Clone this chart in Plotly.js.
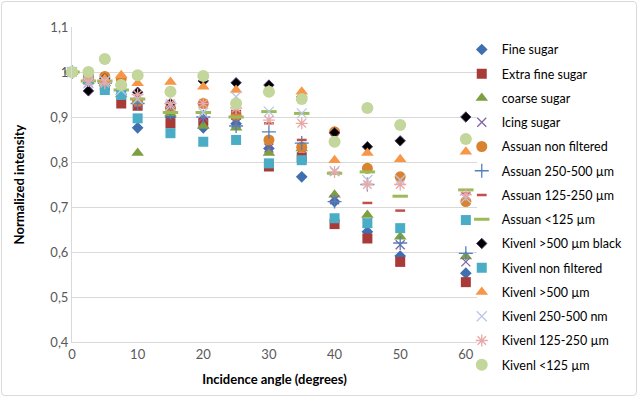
<!DOCTYPE html>
<html><head><meta charset="utf-8">
<script src="https://cdn.plot.ly/plotly-3.0.1.min.js"></script>
<style>body{margin:0;background:#fff}#chart{width:639px;height:398px}
#frame{position:absolute;left:1px;top:1px;width:634px;height:393px;border:1px solid #d9d9d9;border-radius:4px;pointer-events:none}</style>
</head><body><div id="chart"></div><div id="frame"></div>
<script>
const angles = [0, 2.5, 5, 7.5, 10, 15, 20, 25, 30, 35, 40, 45, 50, 60];
const fineSugar      = [1, 0.980, 0.970, 0.950, 0.876, 0.900, 0.876, 0.885, 0.830, 0.767, 0.712, 0.645, 0.591, 0.553];
const extraFine      = [1, 0.985, 0.970, 0.930, 0.925, 0.886, 0.890, 0.905, 0.790, 0.810, 0.662, 0.630, 0.578, 0.533];
const coarseSugar    = [1, 0.980, 0.975, 0.950, 0.820, 0.908, 0.880, 0.876, 0.820, 0.830, 0.727, 0.682, 0.634, 0.590];
const icingSugar     = [1, 0.975, 0.970, 0.955, 0.930, 0.920, 0.900, 0.886, 0.831, 0.830, 0.716, 0.665, 0.616, 0.578];
const assuanNF       = [1, 0.990, 0.990, 0.985, 0.935, 0.920, 0.930, 0.904, 0.849, 0.833, 0.867, 0.786, 0.767, 0.712];
const assuan250      = [1, 0.980, 0.975, 0.960, 0.930, 0.910, 0.900, 0.880, 0.867, 0.842, 0.712, 0.750, 0.620, 0.597];
const assuan125      = [1, 0.985, 0.980, 0.960, 0.940, 0.920, 0.930, 0.910, 0.886, 0.849, 0.775, 0.709, 0.692, 0.730];
const assuanLt125    = [1, 0.980, 0.980, 0.960, 0.940, 0.910, 0.910, 0.900, 0.912, 0.908, 0.775, 0.778, 0.724, 0.738];
const kivenlBlack    = [1, 0.958, 0.985, 0.970, 0.955, 0.930, 0.980, 0.976, 0.971, 0.945, 0.865, 0.834, 0.847, 0.900];
const kivenlNF       = [1, 0.982, 0.960, 0.949, 0.897, 0.864, 0.845, 0.849, 0.797, 0.804, 0.675, 0.664, 0.653, 0.671];
const kivenl500      = [1, 0.990, 0.985, 0.993, 0.975, 0.978, 0.967, 0.960, 0.960, 0.956, 0.804, 0.820, 0.806, 0.823];
const kivenl250      = [1, 0.975, 0.980, 0.960, 0.940, 0.925, 0.910, 0.945, 0.912, 0.908, 0.780, 0.760, 0.760, 0.720];
const kivenl125      = [1, 0.980, 0.975, 0.970, 0.950, 0.930, 0.930, 0.920, 0.893, 0.886, 0.778, 0.750, 0.750, 0.727];
const kivenlLt125    = [1, 1.000, 1.029, 0.971, 0.993, 0.956, 0.991, 0.930, 0.956, 0.940, 0.845, 0.920, 0.882, 0.851];

const names = ['Fine sugar','Extra fine sugar','coarse sugar','Icing sugar','Assuan non filtered','Assuan 250-500 µm','Assuan 125-250 µm','Assuan <125 µm','Kivenl >500 µm black','Kivenl non filtered','Kivenl >500 µm','Kivenl 250-500 nm','Kivenl 125-250 µm','Kivenl <125 µm'];
const series = [fineSugar, extraFine, coarseSugar, icingSugar, assuanNF, assuan250, assuan125, assuanLt125, kivenlBlack, kivenlNF, kivenl500, kivenl250, kivenl125, kivenlLt125];

const markers = [
  {symbol:'diamond', size:9, color:'#3F6FB0'},
  {symbol:'square', size:10, color:'#A83B38'},
  {symbol:'triangle-up', size:11, color:'#7E9F3F'},
  {symbol:'x-thin-open', size:9, color:'#8064A2', line:{color:'#8064A2', width:1.3}},
  {symbol:'circle', size:11, color:'#D9822F'},
  {symbol:'cross-thin-open', size:10, color:'#4F81BD', line:{color:'#4F81BD', width:1.3}},
  {symbol:'line-ew-open', size:7, color:'#C0504D', line:{color:'#C0504D', width:2.5}},
  {symbol:'line-ew-open', size:11, color:'#9BBB59', line:{color:'#9BBB59', width:3}},
  {symbol:'diamond', size:8, color:'#000000', line:{color:'#4a3a6a', width:1}},
  {symbol:'square', size:10, color:'#4BACC6'},
  {symbol:'triangle-up', size:11, color:'#F79646'},
  {symbol:'x-thin-open', size:10, color:'#B9C6E6', line:{color:'#B9C6E6', width:1.3}},
  {symbol:'asterisk-open', size:10, color:'#E6A9A8', line:{color:'#E6A9A8', width:1.3}},
  {symbol:'circle', size:12, color:'#C3D69B'}
];

const traces = series.map((s,i)=>({
  x: angles, y: s, type:'scatter', mode:'markers', name: names[i],
  legendgroup: 'g'+i, marker: markers[i], cliponaxis:false
}));

const layout = {
  width:639, height:398,
  margin:{l:72, r:161, t:27, b:56},
  paper_bgcolor:'#fff', plot_bgcolor:'#fff',
  separators:', ',
  font:{family:'Lato, Carlito, sans-serif', size:13, color:'#595959'},
  xaxis:{range:[0,61.7], tickvals:[0,10,20,30,40,50,60], showgrid:false, zeroline:false,
    showline:true, linecolor:'#d9d9d9', linewidth:1, ticks:'', tickfont:{size:13,color:'#595959'},
    title:{text:'Incidence angle (degrees)', font:{size:13,color:'#000',weight:'bold'}, standoff:14}},
  yaxis:{range:[0.4,1.1], dtick:0.1, tick0:0.4, showgrid:true, gridcolor:'#d9d9d9', gridwidth:1, zeroline:false,
    showline:true, linecolor:'#d9d9d9', ticks:'', ticklen:0, tickfont:{size:13,color:'#595959'},
    title:{text:'Normalized intensity', font:{size:13,color:'#000',weight:'bold'}, standoff:22}},
  legend:{x:0.96, y:0.975, xanchor:'left', yanchor:'top', font:{size:12.5,color:'#000'},
    traceorder:'grouped', tracegroupgap:5, maxheight:390, bgcolor:'rgba(0,0,0,0)'},
  showlegend:true
};
Plotly.newPlot('chart', traces, layout, {staticPlot:true});
</script></body></html>
